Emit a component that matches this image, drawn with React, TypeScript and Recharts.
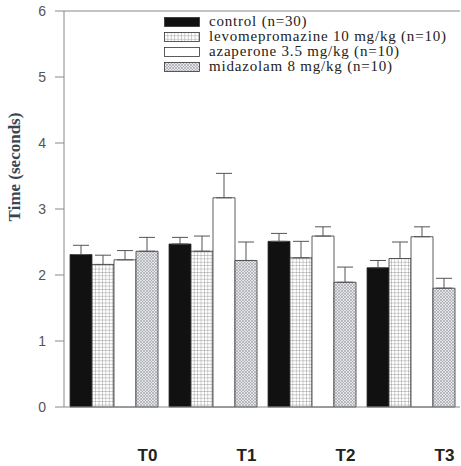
import React from 'react';
import { BarChart, Bar, XAxis, YAxis, ErrorBar, Legend, ReferenceLine } from 'recharts';

const times = ['T0', 'T1', 'T2', 'T3'];
const control = [2.31, 2.47, 2.51, 2.11];
const controlSe = [0.14, 0.1, 0.12, 0.11];
const levo = [2.16, 2.36, 2.26, 2.25];
const levoSe = [0.14, 0.23, 0.25, 0.25];
const aza = [2.23, 3.17, 2.59, 2.58];
const azaSe = [0.14, 0.37, 0.14, 0.15];
const mida = [2.36, 2.22, 1.89, 1.8];
const midaSe = [0.21, 0.28, 0.23, 0.15];
const yTicks = [0, 1, 2, 3, 4, 5, 6];

const series = [
  { key: 'control', name: 'control (n=30)', fill: '#111' },
  { key: 'levo', name: 'levomepromazine 10 mg/kg (n=10)', fill: 'url(#gridPat)' },
  { key: 'aza', name: 'azaperone 3.5 mg/kg (n=10)', fill: '#fff' },
  { key: 'mida', name: 'midazolam 8 mg/kg (n=10)', fill: 'url(#dotPat)' },
];

const data = times.map((t, i) => ({
  time: t,
  control: control[i],
  controlErr: [0, controlSe[i]],
  levo: levo[i],
  levoErr: [0, levoSe[i]],
  aza: aza[i],
  azaErr: [0, azaSe[i]],
  mida: mida[i],
  midaErr: [0, midaSe[i]],
}));

const serif = '"Liberation Serif", "DejaVu Serif", serif';
const sans = '"Liberation Sans", Arial, sans-serif';

const renderLegend = () => (
  <div style={{ fontFamily: serif, fontSize: 15, letterSpacing: 0.8, color: '#222', lineHeight: '15px' }}>
    {series.map((s) => (
      <div key={s.key} style={{ display: 'flex', alignItems: 'center', height: 15 }}>
        <svg width={36} height={10} style={{ marginRight: 9 }}>
          <rect x={0.5} y={0.5} width={35} height={9} fill={s.fill} stroke="#333" strokeWidth={0.8} />
        </svg>
        <span style={{ whiteSpace: 'nowrap' }}>{s.name}</span>
      </div>
    ))}
  </div>
);

const XTick = (props: any) => {
  const { x, y, payload } = props;
  return (
    <text x={x + 34} y={y + 46} textAnchor="middle" fontFamily={sans} fontWeight="bold" fontSize={17} fill="#222">
      {payload.value}
    </text>
  );
};

const YLabel = () => (
  <text
    x={20}
    y={167}
    transform="rotate(-90, 20, 167)"
    textAnchor="middle"
    fontFamily={serif}
    fontWeight="bold"
    fontSize={17}
    fill="#3a4554"
  >
    Time (seconds)
  </text>
);

export default function App() {
  return (
    <div style={{ position: 'absolute', left: 0, top: 0, background: '#fff' }}>
      <BarChart
        width={461}
        height={466}
        data={data}
        margin={{ top: 11, right: 1, left: 0, bottom: 0 }}
        barCategoryGap={6}
        barGap={0}
      >
        <defs>
          <pattern id="gridPat" width={3.4} height={3.4} patternUnits="userSpaceOnUse">
            <rect width={3.4} height={3.4} fill="#fff" />
            <path d="M0 0 H3.4 M0 0 V3.4" stroke="#777" strokeWidth={0.7} />
          </pattern>
          <pattern id="dotPat" width={3} height={3} patternUnits="userSpaceOnUse">
            <rect width={3} height={3} fill="#e4e6ea" />
            <path d="M0 0 L3 3 M3 0 L0 3" stroke="#9a9ca2" strokeWidth={0.6} />
          </pattern>
        </defs>
        <XAxis
          dataKey="time"
          height={59}
          tickLine={false}
          tick={<XTick />}
          axisLine={{ stroke: '#888' }}
          interval={0}
        />
        <YAxis
          width={64}
          domain={[0, 6]}
          ticks={yTicks}
          tickSize={9}
          tickMargin={9}
          axisLine={{ stroke: '#888' }}
          tickLine={{ stroke: '#888' }}
          tick={{ fontFamily: sans, fontSize: 14, fill: '#555' }}
          label={<YLabel />}
        />
        <ReferenceLine y={6} stroke="#888" />
        <Legend
          content={renderLegend}
          layout="horizontal"
          verticalAlign="middle"
          align="center"
          wrapperStyle={{ left: 164, top: 14, width: 295 }}
        />
        {series.map((s) => (
          <Bar
            key={s.key}
            dataKey={s.key}
            name={s.name}
            fill={s.fill}
            stroke="#333"
            strokeWidth={0.8}
            isAnimationActive={false}
          >
            <ErrorBar dataKey={`${s.key}Err`} direction="y" width={8} stroke="#555" strokeWidth={1} />
          </Bar>
        ))}
      </BarChart>
    </div>
  );
}
